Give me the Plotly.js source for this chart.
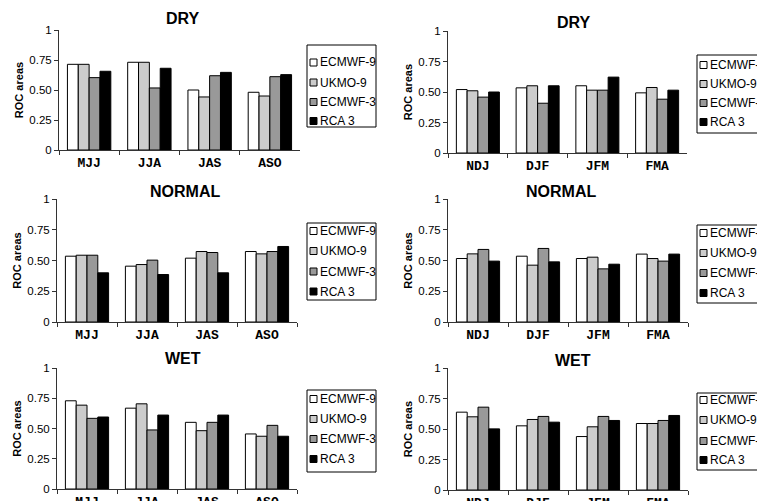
<!DOCTYPE html>
<html>
<head>
<meta charset="utf-8">
<script src="https://cdn.plot.ly/plotly-3.0.1.min.js"></script>
<style>html,body{margin:0;padding:0;background:#fff;}#chart{width:757px;height:501px;}</style>
</head>
<body>
<div id="chart"></div>
<script>
// ---------- DATA ----------
const seasonsSummer = ['MJJ', 'JJA', 'JAS', 'ASO'];
const seasonsWinter = ['NDJ', 'DJF', 'JFM', 'FMA'];
const models = ['ECMWF-9', 'UKMO-9', 'ECMWF-3', 'RCA 3'];
const yTickVals = [0, 0.25, 0.5, 0.75, 1];
const yTickText = ['0', '0.25', '0.50', '0.75', '1'];
const categoryTitles = ['DRY', 'DRY', 'NORMAL', 'NORMAL', 'WET', 'WET'];

// DRY, summer seasons
const drySummerECMWF9 = [0.714, 0.731, 0.500, 0.481];
const drySummerUKMO9  = [0.714, 0.731, 0.442, 0.450];
const drySummerECMWF3 = [0.603, 0.517, 0.619, 0.611];
const drySummerRCA3   = [0.656, 0.681, 0.647, 0.628];
// DRY, winter seasons
const dryWinterECMWF9 = [0.520, 0.534, 0.551, 0.493];
const dryWinterUKMO9  = [0.510, 0.551, 0.515, 0.537];
const dryWinterECMWF3 = [0.458, 0.408, 0.515, 0.441];
const dryWinterRCA3   = [0.500, 0.551, 0.622, 0.515];
// NORMAL, summer seasons
const normSummerECMWF9 = [0.535, 0.454, 0.519, 0.573];
const normSummerUKMO9  = [0.543, 0.467, 0.573, 0.554];
const normSummerECMWF3 = [0.543, 0.503, 0.565, 0.573];
const normSummerRCA3   = [0.400, 0.386, 0.400, 0.614];
// NORMAL, winter seasons
const normWinterECMWF9 = [0.516, 0.535, 0.516, 0.552];
const normWinterUKMO9  = [0.554, 0.462, 0.527, 0.516];
const normWinterECMWF3 = [0.590, 0.598, 0.432, 0.495];
const normWinterRCA3   = [0.495, 0.489, 0.470, 0.552];
// WET, summer seasons
const wetSummerECMWF9 = [0.729, 0.668, 0.551, 0.455];
const wetSummerUKMO9  = [0.693, 0.704, 0.482, 0.436];
const wetSummerECMWF3 = [0.584, 0.488, 0.551, 0.526];
const wetSummerRCA3   = [0.595, 0.611, 0.611, 0.436];
// WET, winter seasons
const wetWinterECMWF9 = [0.638, 0.526, 0.438, 0.545];
const wetWinterUKMO9  = [0.600, 0.578, 0.518, 0.545];
const wetWinterECMWF3 = [0.679, 0.603, 0.603, 0.570];
const wetWinterRCA3   = [0.501, 0.556, 0.570, 0.611];

// ---------- STYLE / LAYOUT ----------
const W = 757, H = 501;
const modelColors = ['#ffffff', '#cccccc', '#999999', '#000000'];
const px = x => x / W;
const py = y => 1 - y / H;

const panels = [
  { cats: seasonsSummer, series: [drySummerECMWF9, drySummerUKMO9, drySummerECMWF3, drySummerRCA3],
    ax: [59, 300, 150, 30], title: [183, 18.5], leg: [307, 45, 127, [62.5, 82.5, 102, 121]] },
  { cats: seasonsWinter, series: [dryWinterECMWF9, dryWinterUKMO9, dryWinterECMWF3, dryWinterRCA3],
    ax: [448, 687, 153, 31], title: [574, 22], leg: [697, 55, 133, [65, 84, 103, 122]] },
  { cats: seasonsSummer, series: [normSummerECMWF9, normSummerUKMO9, normSummerECMWF3, normSummerRCA3],
    ax: [57, 297, 322, 199], title: [185, 191], leg: [307, 223, 300, [231, 251, 271.5, 291.5]] },
  { cats: seasonsWinter, series: [normWinterECMWF9, normWinterUKMO9, normWinterECMWF3, normWinterRCA3],
    ax: [448, 688, 322, 199], title: [561, 191], leg: [697, 225, 303, [233, 253, 273, 293]] },
  { cats: seasonsSummer, series: [wetSummerECMWF9, wetSummerUKMO9, wetSummerECMWF3, wetSummerRCA3],
    ax: [57, 297, 489, 368], title: [182.5, 358.5], leg: [307, 390, 472, [399, 419, 439, 459]] },
  { cats: seasonsWinter, series: [wetWinterECMWF9, wetWinterUKMO9, wetWinterECMWF3, wetWinterRCA3],
    ax: [448, 688, 490, 368], title: [572.5, 360], leg: [697, 393, 470, [400, 420, 441, 460]] }
];

const axisColor = '#333333';
const data = [];
const layout = {
  width: W, height: H,
  margin: { l: 0, r: 0, t: 0, b: 0, pad: 0 },
  paper_bgcolor: '#ffffff', plot_bgcolor: '#ffffff',
  barmode: 'group', bargap: 0.28, bargroupgap: 0,
  showlegend: false,
  font: { family: 'Liberation Sans, Arial, sans-serif', color: '#000' },
  annotations: [], shapes: []
};

panels.forEach((p, i) => {
  const n = i === 0 ? '' : String(i + 1);
  const xa = 'x' + n, ya = 'y' + n;
  p.series.forEach((vals, k) => {
    data.push({
      type: 'bar', x: p.cats, y: vals, name: models[k],
      xaxis: xa, yaxis: ya,
      marker: { color: modelColors[k], line: { color: '#000', width: 1 } },
      hoverinfo: 'x+y+name'
    });
  });
  const [x0, x1, yb, yt] = p.ax;
  layout['xaxis' + n] = {
    domain: [px(x0), px(x1)], anchor: ya, type: 'category',
    showline: true, linecolor: axisColor, linewidth: 1,
    ticks: 'outside', tickson: 'boundaries', ticklen: 4, tickcolor: axisColor,
    showgrid: false, zeroline: false, fixedrange: true,
    tickfont: { family: 'Courier New, Liberation Mono, monospace', size: 13, weight: 'bold', color: '#000' }
  };
  layout['yaxis' + n] = {
    domain: [py(yb), py(yt)], anchor: xa, range: [0, 1],
    tickvals: yTickVals, ticktext: yTickText,
    showline: true, linecolor: axisColor, linewidth: 1,
    ticks: 'outside', ticklen: 4, tickcolor: axisColor,
    showgrid: false, zeroline: false, fixedrange: true,
    tickfont: { family: 'Liberation Sans, Arial, sans-serif', size: 11.5, color: '#000' },
    title: { text: 'ROC areas', standoff: 3,
             font: { family: 'Liberation Sans, Arial, sans-serif', size: 11, weight: 'bold', color: '#000' } }
  };
  // panel title
  layout.annotations.push({
    xref: 'paper', yref: 'paper', x: px(p.title[0]), y: py(p.title[1]),
    xanchor: 'center', yanchor: 'middle', showarrow: false,
    text: categoryTitles[i],
    font: { family: 'Liberation Sans, Arial, sans-serif', size: 16, weight: 'bold', color: '#000' }
  });
  // legend box
  const [lx, ltop, lbot, items] = p.leg;
  layout.shapes.push({
    type: 'rect', xref: 'paper', yref: 'paper',
    x0: px(lx), x1: px(lx + 69), y0: py(lbot), y1: py(ltop),
    line: { color: '#000', width: 1 }, fillcolor: '#fff', layer: 'above'
  });
  items.forEach((iy, k) => {
    layout.shapes.push({
      type: 'rect', xref: 'paper', yref: 'paper',
      x0: px(lx + 3), x1: px(lx + 10), y0: py(iy + 3.5), y1: py(iy - 3.5),
      line: { color: '#000', width: 1 }, fillcolor: modelColors[k], layer: 'above'
    });
    layout.annotations.push({
      xref: 'paper', yref: 'paper', x: px(lx + 11), y: py(iy),
      xanchor: 'left', yanchor: 'middle', showarrow: false, text: models[k],
      font: { family: 'Liberation Sans, Arial, sans-serif', size: 12, color: '#000' }
    });
  });
});

Plotly.newPlot('chart', data, layout, { displayModeBar: false, staticPlot: true });
</script>
</body>
</html>
